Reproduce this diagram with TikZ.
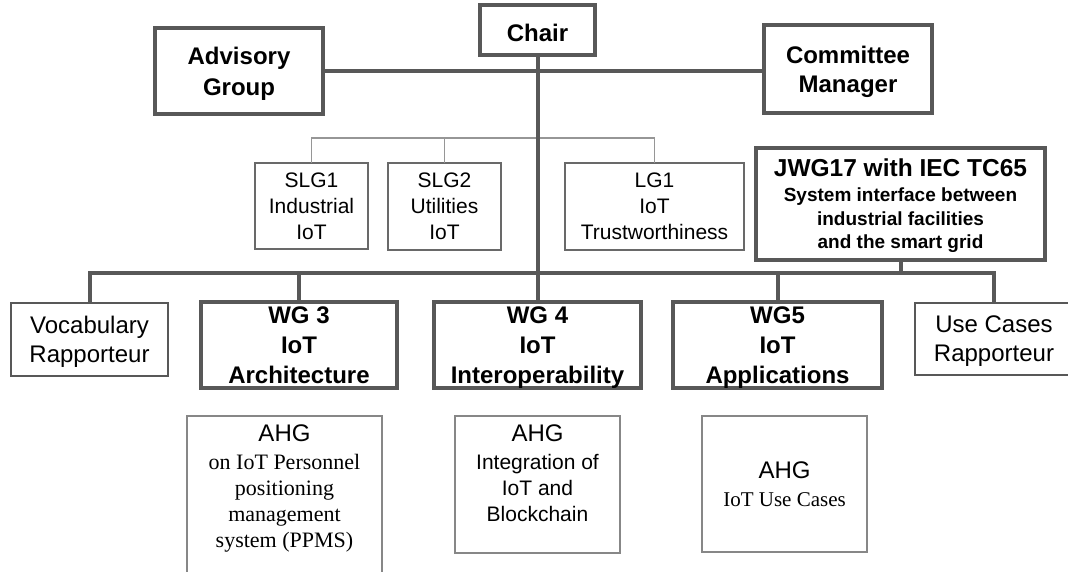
\documentclass[tikz,border=0pt]{standalone}
\usepackage{fontspec}
\setmainfont{Liberation Sans}
\newfontfamily\serifface{Liberation Serif}
\definecolor{dgray}{RGB}{88,88,88}
\definecolor{mgray}{RGB}{105,105,105}
\definecolor{lgray}{RGB}{150,150,150}
\definecolor{bgray}{RGB}{135,135,135}
\begin{document}
\begin{tikzpicture}[x=1pt,y=-1pt,
  box/.style={rectangle, inner sep=0pt, outer sep=0pt, align=center, text=black},
  heavy/.style={box, draw=dgray, line width=4pt, font=\bfseries\fontsize{24}{30}\selectfont},
  thinbox/.style={box, draw=mgray, line width=1.3pt, font=\fontsize{21}{26}\selectfont},
  rapbox/.style={box, draw=dgray, line width=2.2pt, font=\fontsize{24}{29}\selectfont},
  ahgbox/.style={box, draw=bgray, line width=1.3pt},
  ahgtext/.style={box, align=center},
  heavyline/.style={draw=dgray, line width=4pt},
  lightline/.style={draw=lgray, line width=1.5pt}]
\useasboundingbox (0,0) rectangle (1068,571);
\fill[white] (0,0) rectangle (1068,571);

% top level
\node[heavy, minimum width=115, minimum height=50, text height=22.5pt, text depth=0pt] (chair) at (537.5,30) {Chair};
\node[heavy, minimum width=168, minimum height=86, font=\bfseries\fontsize{24}{31}\selectfont] (adv) at (239,71) {Advisory\\\smash{Group}};
\node[heavy, minimum width=168, minimum height=88, font=\bfseries\fontsize{24}{29}\selectfont] (cm) at (848,69) {Committee\\\smash{Manager}};

% liaison groups
\node[thinbox, minimum width=113, minimum height=86] (slg1) at (311.5,206) {SLG1\\Industrial\\IoT};
\node[thinbox, minimum width=113, minimum height=87] (slg2) at (444.5,206.5) {SLG2\\Utilities\\IoT};
\node[thinbox, minimum width=179, minimum height=87] (lg1) at (654.5,206.5) {LG1\\IoT\\Trustworthiness};
\node[heavy, minimum width=289, minimum height=112, font=\bfseries\fontsize{19}{23.5}\selectfont] (jwg) at (900.5,204)
  {{\fontsize{24.5}{27}\selectfont JWG17 with IEC TC65}\\[1.5pt]System interface between\\industrial facilities\\\smash{and the smart grid}};

% working groups
\node[rapbox, minimum width=157, minimum height=73] (voc) at (89.5,339.5) {Vocabulary\\\smash{Rapporteur}};
\node[heavy, minimum width=196, minimum height=86] (wg3) at (299,345) {WG 3\\IoT\\\smash{Architecture}};
\node[heavy, minimum width=207, minimum height=86] (wg4) at (537.5,345) {WG 4\\IoT\\\smash{Interoperability}};
\node[heavy, minimum width=209, minimum height=86] (wg5) at (777.5,345) {WG5\\IoT\\\smash{Applications}};
\node[rapbox, minimum width=158, minimum height=72] (uc) at (994,339) {Use Cases\\\smash{Rapporteur}};

% ad hoc groups
\node[ahgbox, minimum width=195, minimum height=184] (ahg1) at (284.5,508) {};
\node[ahgtext, font=\serifface\fontsize{22}{26}\selectfont] (ahg1t) at (284.5,488)
  {{\rmfamily\fontsize{24}{26}\selectfont AHG}\\[2pt]on IoT Personnel\\positioning\\management\\system (PPMS)};
\node[ahgbox, minimum width=165, minimum height=137] (ahg2) at (537.5,484.5) {};
\node[ahgtext, font=\fontsize{21}{26}\selectfont] (ahg2t) at (537.5,473)
  {{\fontsize{24}{26}\selectfont AHG}\\[2pt]Integration of\\IoT and\\Blockchain};
\node[ahgbox, minimum width=165, minimum height=136, font=\serifface\fontsize{21}{26}\selectfont] (ahg3) at (784.5,484)
  {{\rmfamily\fontsize{24}{26}\selectfont AHG}\\[2pt]IoT Use Cases};

% connectors
\coordinate (lgbus) at (0,138);
\coordinate (bus) at (0,273);
\draw[lightline] (slg1.north) -- (slg1.north |- lgbus) -| (lg1.north);
\draw[lightline] (slg2.north) -- (slg2.north |- lgbus);
\draw[heavyline] (adv.east) -- (adv.east -| cm.west);
\draw[heavyline] (chair.south) -- (wg4.north);
\draw[heavyline] (voc.north) -- (voc.north |- bus) -- (uc.north |- bus) -- (uc.north);
\draw[heavyline] (wg3.north) -- (wg3.north |- bus);
\draw[heavyline] (wg5.north) -- (wg5.north |- bus);
\draw[heavyline] (jwg.south) -- (jwg.south |- bus);
\end{tikzpicture}
\end{document}
